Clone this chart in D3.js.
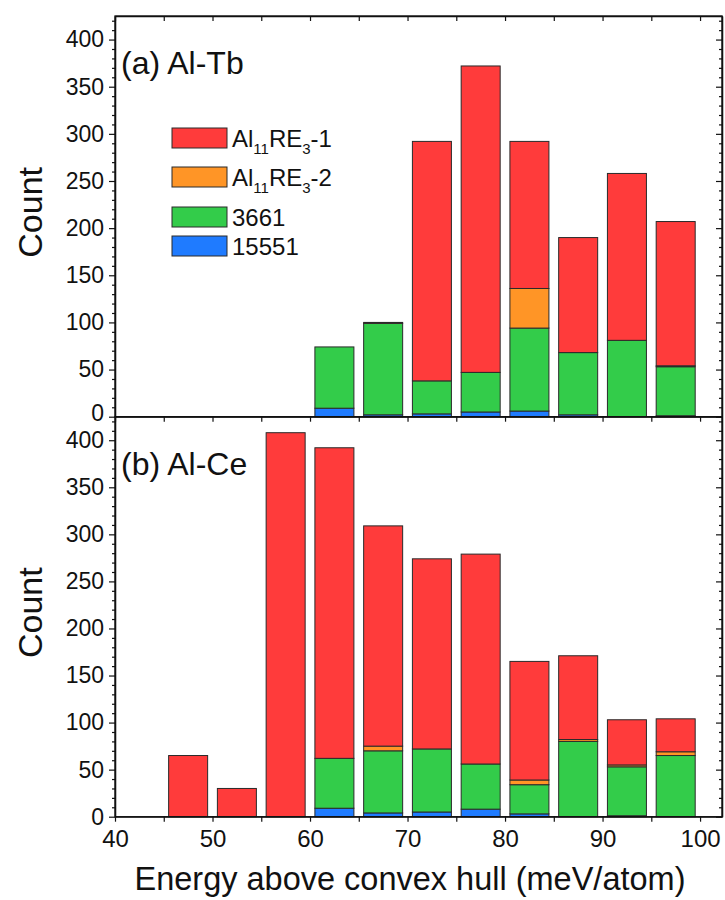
<!DOCTYPE html>
<html>
<head>
<meta charset="utf-8">
<script src="https://cdn.jsdelivr.net/npm/d3@7"></script>
<style>
  html, body { margin: 0; padding: 0; background: #fff; }
  svg { display: block; }
  text { font-family: "Liberation Sans", Arial, Helvetica, sans-serif; fill: #111; }
</style>
</head>
<body>
<svg id="chart" width="725" height="900"></svg>
<script>
// ---------------- data ----------------
const binCenters = [47.5, 52.5, 57.5, 62.5, 67.5, 72.5, 77.5, 82.5, 87.5, 92.5, 97.5];
const seriesNames = ["15551", "3661", "Al11RE3-2", "Al11RE3-1"]; // stacking order bottom->top

// (a) Al-Tb
const tbBlue   = [0, 0, 0, 9, 2, 3, 5, 6, 2, 0, 1];
const tbGreen  = [0, 0, 0, 65, 97, 35, 42, 88, 66, 81, 52];
const tbOrange = [0, 0, 0, 0, 0, 0, 0, 42, 0, 0, 1];
const tbRed    = [0, 0, 0, 0, 1, 254, 325, 156, 122, 177, 153];

// (b) Al-Ce
const ceBlue   = [0, 0, 0, 9, 4, 5, 8, 3, 0, 1, 0];
const ceGreen  = [0, 0, 0, 53, 66, 67, 48, 31, 80, 52, 65];
const ceOrange = [0, 0, 0, 0, 5, 0, 0, 5, 2, 2, 4];
const ceRed    = [65, 30, 408, 330, 234, 202, 223, 126, 89, 48, 35];

const yTicks = [0, 50, 100, 150, 200, 250, 300, 350, 400];
const xTicks = [40, 50, 60, 70, 80, 90, 100];
const panelLabels = ["(a) Al-Tb", "(b) Al-Ce"];
const xTitle = "Energy above convex hull (meV/atom)";
const yTitle = "Count";

// ---------------- layout ----------------
const colors = {"15551": "#1f7bff", "3661": "#33cc4a", "Al11RE3-2": "#ff9526", "Al11RE3-1": "#ff3b3b"};
const svg = d3.select("#chart");
const left = 115, right = 722;
const panels = [
  {top: 16, bottom: 416.7, label: panelLabels[0], data: [tbBlue, tbGreen, tbOrange, tbRed]},
  {top: 416.7, bottom: 816.7, label: panelLabels[1], data: [ceBlue, ceGreen, ceOrange, ceRed]}
];
const x = d3.scaleLinear().domain([40, 102.25]).range([left, right]);
const binWidth = 4;
const fiveTicks = d3.range(40, 101, 5);
const tenMinor = d3.range(0, 421, 10).filter(v => v % 50 !== 0);

panels.forEach((p, pi) => {
  const y = d3.scaleLinear().domain([0, 425]).range([p.bottom, p.top]);
  const g = svg.append("g");

  // stacked bars
  const rows = binCenters.map((c, i) => {
    const r = {c};
    seriesNames.forEach((s, si) => r[s] = p.data[si][i]);
    return r;
  });
  const stacked = d3.stack().keys(seriesNames)(rows);
  stacked.forEach(layer => {
    g.append("g").selectAll("rect")
      .data(layer.filter(d => d[1] - d[0] > 0))
      .join("rect")
      .attr("x", d => x(d.data.c - binWidth / 2))
      .attr("width", d => x(d.data.c + binWidth / 2) - x(d.data.c - binWidth / 2))
      .attr("y", d => y(d[1]))
      .attr("height", d => y(d[0]) - y(d[1]))
      .attr("fill", colors[layer.key])
      .attr("stroke", "#2a2a2a")
      .attr("stroke-width", 1);
  });

  // frame
  g.append("rect").attr("x", left).attr("y", p.top)
    .attr("width", right - left).attr("height", p.bottom - p.top)
    .attr("fill", "none").attr("stroke", "#111").attr("stroke-width", 1.3);

  // left axis major
  const la = g.append("g").attr("transform", `translate(${left},0)`)
    .call(d3.axisLeft(y).tickValues(yTicks).tickSize(6).tickSizeOuter(0).tickPadding(5));
  la.selectAll("text").style("font-size", "23px").attr("fill", "#111");
  if (pi === 0) {
    // lift the "0" of the upper panel slightly, as in the reference
    la.selectAll(".tick").filter(d => d === 0).select("text").attr("y", -4);
  }
  // left axis minor
  g.append("g").attr("transform", `translate(${left},0)`)
    .call(d3.axisLeft(y).tickValues(tenMinor).tickSize(3).tickSizeOuter(0).tickFormat(""));
  // right axis (inward)
  g.append("g").attr("transform", `translate(${right},0)`)
    .call(d3.axisLeft(y).tickValues(yTicks).tickSize(6).tickSizeOuter(0).tickFormat(""));
  g.append("g").attr("transform", `translate(${right},0)`)
    .call(d3.axisLeft(y).tickValues(tenMinor).tickSize(3).tickSizeOuter(0).tickFormat(""));

  // top ticks (inward, pointing down)
  if (pi === 0) {
    g.append("g").attr("transform", `translate(0,${p.top})`)
      .call(d3.axisBottom(x).tickValues(fiveTicks).tickSize(5).tickSizeOuter(0).tickFormat(""));
  }
  // bottom axis
  const ba = g.append("g").attr("transform", `translate(0,${p.bottom})`)
    .call(d3.axisBottom(x).tickValues(fiveTicks).tickSize(5).tickSizeOuter(0).tickPadding(8)
      .tickFormat(d => (pi === 1 && xTicks.includes(d)) ? d : ""));
  ba.selectAll("text").style("font-size", "24px").attr("fill", "#111");

  g.selectAll(".domain").attr("stroke", "#111").attr("stroke-width", 1.3);
  g.selectAll(".tick line").attr("stroke", "#111").attr("stroke-width", 1.2);

  // panel label
  g.append("text").attr("x", 121).attr("y", p.top + 58)
    .style("font-size", "32px").text(p.label);

  // y title
  g.append("text")
    .attr("transform", `translate(42,${(p.top + p.bottom) / 2 - 4}) rotate(-90)`)
    .attr("text-anchor", "middle").style("font-size", "34px").text(yTitle);
});

// x title
svg.append("text").attr("x", 410).attr("y", 890).attr("text-anchor", "middle")
  .style("font-size", "32.5px").text(xTitle);

// legend
const legendItems = [
  {key: "Al11RE3-1", y: 128, parts: [["Al", 0], ["11", 1], ["RE", 0], ["3", 1], ["-1", 0]]},
  {key: "Al11RE3-2", y: 167, parts: [["Al", 0], ["11", 1], ["RE", 0], ["3", 1], ["-2", 0]]},
  {key: "3661", y: 207, parts: [["3661", 0]]},
  {key: "15551", y: 236, parts: [["15551", 0]]}
];
const lg = svg.append("g");
legendItems.forEach(it => {
  lg.append("rect").attr("x", 172).attr("y", it.y).attr("width", 55).attr("height", 20)
    .attr("fill", colors[it.key]).attr("stroke", "#2a2a2a").attr("stroke-width", 1);
  const t = lg.append("text").attr("x", 232).attr("y", it.y + 19).style("font-size", "24px");
  let prevSub = 0;
  it.parts.forEach(([s, sub]) => {
    const ts = t.append("tspan").text(s);
    const dy = (sub ? 7 : 0) - (prevSub ? 7 : 0);
    if (dy !== 0) ts.attr("dy", dy);
    if (sub) ts.style("font-size", "15px");
    prevSub = sub;
  });
});
</script>
</body>
</html>
